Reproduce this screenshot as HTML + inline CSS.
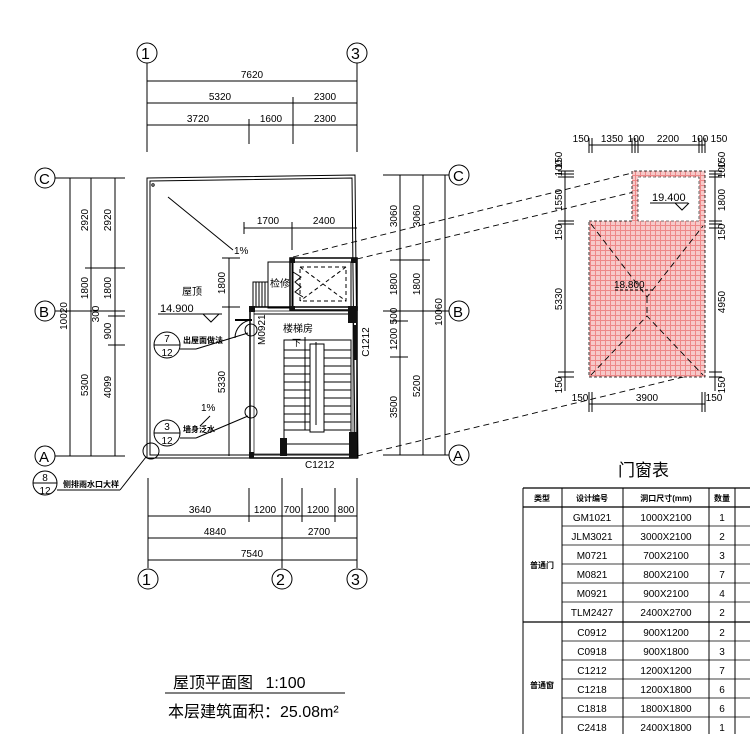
<!DOCTYPE html>
<html><head><meta charset="utf-8"><style>
body{margin:0;background:#fff}
svg{display:block}
text{font-family:"Liberation Sans","Noto Sans CJK SC",sans-serif;fill:#000}
.s{stroke:#000;fill:none;stroke-width:1}
.d{stroke:#000;fill:none;stroke-width:0.9;stroke-dasharray:6 4}
.t{font-size:10px}
</style></head><body>
<svg width="750" height="734" viewBox="0 0 750 734" xmlns="http://www.w3.org/2000/svg">
<defs>
<pattern id="tile" width="5" height="5" patternUnits="userSpaceOnUse">
<rect width="5" height="5" fill="#f7c9c9"/>
<path d="M0 0.5H5M0.5 0V5" stroke="#e88" stroke-width="1"/>
</pattern>
</defs>

<!-- top axis -->
<g class="s">
<circle cx="147" cy="53" r="10"/><circle cx="357" cy="53" r="10"/>
<line x1="147" y1="63" x2="147" y2="152"/><line x1="357" y1="63" x2="357" y2="152"/>
<line x1="147" y1="81" x2="357" y2="81"/>
<line x1="147" y1="103" x2="357" y2="103"/>
<line x1="147" y1="125" x2="357" y2="125"/>
<line x1="293" y1="97" x2="293" y2="144"/>
<line x1="249" y1="119" x2="249" y2="144"/>
</g>
<text x="141" y="59" font-size="16">1</text><text x="351" y="59" font-size="16">3</text>
<g class="t" text-anchor="middle">
<text x="252" y="78">7620</text>
<text x="220" y="100">5320</text><text x="325" y="100">2300</text>
<text x="198" y="122">3720</text><text x="271" y="122">1600</text><text x="325" y="122">2300</text>
</g>

<!-- left axis -->
<g class="s">
<circle cx="45" cy="178" r="10"/><circle cx="45" cy="311" r="10"/><circle cx="45" cy="456" r="10"/>
<line x1="55" y1="178" x2="125" y2="178"/><line x1="55" y1="311" x2="125" y2="311"/><line x1="55" y1="456" x2="125" y2="456"/>
<line x1="70" y1="178" x2="70" y2="456"/><line x1="91" y1="178" x2="91" y2="456"/><line x1="115" y1="178" x2="115" y2="456"/>
<line x1="85" y1="268" x2="125" y2="268"/><line x1="108" y1="316" x2="125" y2="316"/><line x1="108" y1="345" x2="125" y2="345"/>
</g>
<text x="39" y="184" font-size="15">C</text><text x="39" y="317" font-size="15">B</text><text x="39" y="462" font-size="15">A</text>
<g class="t" text-anchor="middle">
<text transform="translate(88,220) rotate(-90)">2920</text><text transform="translate(111,220) rotate(-90)">2920</text>
<text transform="translate(88,288) rotate(-90)">1800</text><text transform="translate(111,288) rotate(-90)">1800</text>
<text transform="translate(67,316) rotate(-90)">10020</text>
<text transform="translate(99,314) rotate(-90)">300</text>
<text transform="translate(111,331) rotate(-90)">900</text>
<text transform="translate(88,385) rotate(-90)">5300</text><text transform="translate(111,387) rotate(-90)">4099</text>
</g>

<!-- right axis -->
<g class="s">
<circle cx="459" cy="175" r="10"/><circle cx="459" cy="311" r="10"/><circle cx="459" cy="455" r="10"/>
<line x1="383" y1="175" x2="449" y2="175"/><line x1="383" y1="311" x2="449" y2="311"/><line x1="383" y1="455" x2="449" y2="455"/>
<line x1="400" y1="175" x2="400" y2="455"/><line x1="423" y1="175" x2="423" y2="455"/><line x1="445" y1="175" x2="445" y2="455"/>
<line x1="390" y1="260" x2="430" y2="260"/><line x1="390" y1="321" x2="408" y2="321"/><line x1="390" y1="357" x2="408" y2="357"/>
</g>
<text x="453" y="181" font-size="15">C</text><text x="453" y="317" font-size="15">B</text><text x="453" y="461" font-size="15">A</text>
<g class="t" text-anchor="middle">
<text transform="translate(397,216) rotate(-90)">3060</text><text transform="translate(420,216) rotate(-90)">3060</text>
<text transform="translate(397,284) rotate(-90)">1800</text><text transform="translate(420,284) rotate(-90)">1800</text>
<text transform="translate(397,316) rotate(-90)">500</text>
<text transform="translate(397,339) rotate(-90)">1200</text>
<text transform="translate(420,386) rotate(-90)">5200</text>
<text transform="translate(397,407) rotate(-90)">3500</text>
<text transform="translate(442,312) rotate(-90)">10060</text>
<text transform="translate(369,342) rotate(-90)">C1212</text>
</g>

<!-- bottom axis -->
<g class="s">
<line x1="148" y1="478" x2="148" y2="568"/><line x1="282" y1="478" x2="282" y2="568"/><line x1="357" y1="478" x2="357" y2="568"/>
<line x1="249" y1="488" x2="249" y2="522"/><line x1="302" y1="488" x2="302" y2="522"/><line x1="335" y1="488" x2="335" y2="522"/>
<line x1="148" y1="516" x2="357" y2="516"/><line x1="148" y1="538" x2="357" y2="538"/><line x1="148" y1="560" x2="357" y2="560"/>
<circle cx="148" cy="579" r="10"/><circle cx="282" cy="579" r="10"/><circle cx="357" cy="579" r="10"/>
</g>
<text x="142" y="585" font-size="16">1</text><text x="276" y="585" font-size="16">2</text><text x="351" y="585" font-size="16">3</text>
<g class="t" text-anchor="middle">
<text x="200" y="513">3640</text><text x="265" y="513">1200</text><text x="292" y="513">700</text><text x="318" y="513">1200</text><text x="346" y="513">800</text>
<text x="215" y="535">4840</text><text x="319" y="535">2700</text>
<text x="252" y="557">7540</text>
</g>

<!-- plan outline -->
<path class="s" d="M147 178 L355 175 L358 458 L147 458 Z" stroke-width="1.6"/>
<path class="s" d="M150 181 L352 178 L355 455 L150 455 Z" stroke-width="0.7"/>
<circle cx="153" cy="185" r="1.2" class="s"/>
<line class="s" x1="168" y1="197" x2="233" y2="250"/>
<text x="234" y="254" class="t">1%</text>
<text x="182" y="295" font-size="10" fill="#555">屋顶</text>
<text x="160" y="312" font-size="11">14.900</text>
<line class="s" x1="158" y1="314" x2="222" y2="314"/>
<path class="s" d="M203 314 L211 322 L219 314"/>

<!-- dims 1700/2400 -->
<g class="s">
<line x1="244" y1="228" x2="357" y2="228"/>
<line x1="244" y1="222" x2="244" y2="234"/><line x1="292" y1="222" x2="292" y2="250"/>
<line x1="229" y1="258" x2="229" y2="456"/>
<line x1="222" y1="258" x2="240" y2="258"/><line x1="222" y1="307" x2="240" y2="307"/>
</g>
<text x="268" y="224" class="t" text-anchor="middle">1700</text>
<text x="324" y="224" class="t" text-anchor="middle">2400</text>
<text transform="translate(225,283) rotate(-90)" class="t" text-anchor="middle">1800</text>
<text transform="translate(225,382) rotate(-90)" class="t" text-anchor="middle">5330</text>

<!-- stair building -->
<g class="s">
<rect x="268" y="262" width="24" height="46" fill="#fff"/>
<rect x="290" y="258" width="67" height="52" stroke-width="1.5"/>
<rect x="293" y="262" width="58" height="45"/>
<rect x="300" y="267" width="46" height="34" stroke-dasharray="4 3"/>
<path d="M300 267 L346 301 M346 267 L300 301" stroke-dasharray="4 3"/>
<path d="M293 272 l8 5 -6 5 6 5 -6 5 8 5"/>
<rect x="250" y="307" width="107" height="151" stroke-width="1.5"/>
<rect x="254" y="311" width="99" height="143" stroke-width="0.7"/>
<line x1="254" y1="314" x2="353" y2="314"/>
<rect x="253" y="282" width="15" height="25"/>
<path d="M256 282V307M259 282V307M262 282V307M265 282V307"/>
<rect x="284" y="340" width="67" height="104"/>
<rect x="310" y="344" width="14" height="88"/>
<path d="M305 337 V430 M316 342 V425"/>
<path d="M284 350H310M284 358H310M284 366H310M284 374H310M284 382H310M284 390H310M284 398H310M284 406H310M284 414H310M284 422H310M284 430H310"/>
<path d="M324 350H351M324 358H351M324 366H351M324 374H351M324 382H351M324 390H351M324 398H351M324 406H351M324 414H351M324 422H351M324 430H351"/>
<path d="M235 338 A18 18 0 0 1 252 320"/>
<line x1="235" y1="320" x2="252" y2="320" stroke-width="2"/>
<circle cx="251" cy="330" r="6"/><circle cx="251" cy="412" r="6"/>
<line x1="196" y1="349" x2="248" y2="333"/><line x1="196" y1="438" x2="248" y2="416"/>
<line x1="200" y1="426" x2="210" y2="416"/>
</g>
<g fill="#111">
<rect x="290" y="258" width="5" height="5"/><rect x="351" y="258" width="6" height="5"/>
<rect x="290" y="306" width="5" height="5"/><rect x="249" y="306" width="6" height="6"/>
<rect x="348" y="306" width="9" height="17"/><rect x="349" y="432" width="8" height="26"/>
<rect x="280" y="438" width="7" height="18"/><rect x="249" y="452" width="5" height="6"/>
<rect x="354" y="325" width="3" height="35"/>
</g>
<text x="270" y="287" font-size="10" fill="#555">检修</text>
<text x="283" y="332" font-size="10" fill="#555">楼梯房</text>
<text x="292" y="346" font-size="9">下</text>
<text transform="translate(265,345) rotate(-90)" class="t">M0921</text>
<text x="305" y="468" class="t">C1212</text>
<text x="201" y="411" class="t">1%</text>

<!-- callouts -->
<g class="s">
<circle cx="167" cy="345" r="13"/><line x1="154" y1="345" x2="180" y2="345"/>
<circle cx="167" cy="433" r="13"/><line x1="154" y1="433" x2="180" y2="433"/>
<circle cx="45" cy="483" r="12"/><line x1="33" y1="483" x2="57" y2="483"/>
<circle cx="151" cy="451" r="8"/>
<line x1="57" y1="490" x2="120" y2="490"/><line x1="120" y1="490" x2="146" y2="457"/>
<line x1="180" y1="349" x2="196" y2="349"/><line x1="180" y1="438" x2="196" y2="438"/>
</g>
<g text-anchor="middle" font-size="10">
<text x="167" y="342">7</text><text x="167" y="356">12</text>
<text x="167" y="430">3</text><text x="167" y="444">12</text>
<text x="45" y="481">8</text><text x="45" y="494">12</text>
</g>
<text x="183" y="343" font-size="8" font-weight="bold">出屋面做法</text>
<text x="183" y="432" font-size="8" font-weight="bold">墙身泛水</text>
<text x="63" y="487" font-size="8" font-weight="bold">侧排雨水口大样</text>

<!-- projection dashed -->
<line class="d" x1="293" y1="257" x2="632" y2="173"/>
<line class="d" x1="357" y1="259" x2="700" y2="176"/>
<line class="d" x1="357" y1="456" x2="704" y2="372"/>

<!-- right roof plan -->
<path d="M589 221 H632 V171 H705 V377 H589 Z" fill="url(#tile)" stroke="#000" stroke-width="0.8" stroke-dasharray="3 2"/>
<rect x="638" y="177" width="61" height="44" fill="#fff" stroke="#000" stroke-width="0.6" stroke-dasharray="3 2"/>
<g class="d" stroke-width="0.8">
<path d="M591 224 L647 297 L703 226"/><path d="M591 375 L647 316 L703 375"/><path d="M647 297 V316"/>
</g>
<text x="614" y="288" font-size="10">18.800</text>
<line class="s" x1="615" y1="290" x2="655" y2="290" stroke-dasharray="3 2"/>
<text x="652" y="201" font-size="11">19.400</text>
<line class="s" x1="650" y1="203" x2="688" y2="203"/>
<path class="s" d="M675 203 L682 210 L689 203"/>
<g class="s" stroke-width="0.8">
<line x1="565" y1="171" x2="565" y2="391"/><line x1="715" y1="171" x2="715" y2="391"/>
<line x1="589" y1="145" x2="705" y2="145"/><line x1="589" y1="404" x2="705" y2="404"/>
<path d="M589 138V153M592 138V153M632 138V153M635 138V153M638 138V153M699 138V153M702 138V153M705 138V153"/>
<path d="M589 392V412M592 392V412M702 392V412M705 392V412"/>
<path d="M558 171H574M558 174H574M558 177H574M558 221H574M558 224H574M558 372H574M558 377H574"/>
<path d="M709 171H722M709 174H722M709 177H722M709 221H722M709 224H722M709 228H722M709 372H722M709 377H722"/>
</g>
<g font-size="10" text-anchor="middle">
<text x="581" y="142">150</text><text x="612" y="142">1350</text><text x="636" y="142">100</text><text x="668" y="142">2200</text><text x="700" y="142">100</text><text x="719" y="142">150</text>
<text transform="translate(562,160) rotate(-90)">150</text><text transform="translate(562,168) rotate(-90)">100</text>
<text transform="translate(562,200) rotate(-90)">1550</text><text transform="translate(562,232) rotate(-90)">150</text>
<text transform="translate(562,299) rotate(-90)">5330</text><text transform="translate(562,385) rotate(-90)">150</text>
<text transform="translate(725,160) rotate(-90)">150</text><text transform="translate(725,170) rotate(-90)">100</text>
<text transform="translate(725,200) rotate(-90)">1800</text><text transform="translate(725,232) rotate(-90)">150</text>
<text transform="translate(725,302) rotate(-90)">4950</text><text transform="translate(725,385) rotate(-90)">150</text>
<text x="580" y="401">150</text><text x="647" y="401">3900</text><text x="714" y="401">150</text>
</g>

<!-- table -->
<text x="618" y="476" font-size="17">门窗表</text>
<g class="s">
<line x1="523" y1="488" x2="750" y2="488" stroke-width="1.3"/>
<line x1="523" y1="507" x2="750" y2="507" stroke-width="1.3"/>
<line x1="523" y1="488" x2="523" y2="734"/><line x1="562" y1="488" x2="562" y2="734"/>
<line x1="623" y1="488" x2="623" y2="734"/><line x1="709" y1="488" x2="709" y2="734"/><line x1="735" y1="488" x2="735" y2="734"/>
<path d="M562 526H750M562 545H750M562 564H750M562 583H750M562 602H750M562 641H750M562 660H750M562 679H750M562 698H750M562 717H750" stroke-width="0.7"/>
<line x1="523" y1="622" x2="750" y2="622" stroke-width="1.3"/>
</g>
<g font-size="8" font-weight="bold" text-anchor="middle">
<text x="542" y="501">类型</text><text x="592" y="501">设计编号</text><text x="666" y="501">洞口尺寸(mm)</text><text x="722" y="501">数量</text>
<text x="542" y="568">普通门</text><text x="542" y="688">普通窗</text>
</g>
<g font-size="10" text-anchor="middle">
<text x="592" y="521">GM1021</text><text x="666" y="521">1000X2100</text><text x="722" y="521">1</text>
<text x="592" y="540">JLM3021</text><text x="666" y="540">3000X2100</text><text x="722" y="540">2</text>
<text x="592" y="559">M0721</text><text x="666" y="559">700X2100</text><text x="722" y="559">3</text>
<text x="592" y="578">M0821</text><text x="666" y="578">800X2100</text><text x="722" y="578">7</text>
<text x="592" y="597">M0921</text><text x="666" y="597">900X2100</text><text x="722" y="597">4</text>
<text x="592" y="616">TLM2427</text><text x="666" y="616">2400X2700</text><text x="722" y="616">2</text>
<text x="592" y="636">C0912</text><text x="666" y="636">900X1200</text><text x="722" y="636">2</text>
<text x="592" y="655">C0918</text><text x="666" y="655">900X1800</text><text x="722" y="655">3</text>
<text x="592" y="674">C1212</text><text x="666" y="674">1200X1200</text><text x="722" y="674">7</text>
<text x="592" y="693">C1218</text><text x="666" y="693">1200X1800</text><text x="722" y="693">6</text>
<text x="592" y="712">C1818</text><text x="666" y="712">1800X1800</text><text x="722" y="712">6</text>
<text x="592" y="731">C2418</text><text x="666" y="731">2400X1800</text><text x="722" y="731">1</text>
</g>

<!-- title -->
<text x="173" y="688" font-size="16">屋顶平面图 <tspan dx="8">1:100</tspan></text>
<line class="s" x1="165" y1="693" x2="345" y2="693" stroke-width="1.3"/>
<text x="168" y="717" font-size="16">本层建筑面积：25.08m²</text>
</svg>
</body></html>
